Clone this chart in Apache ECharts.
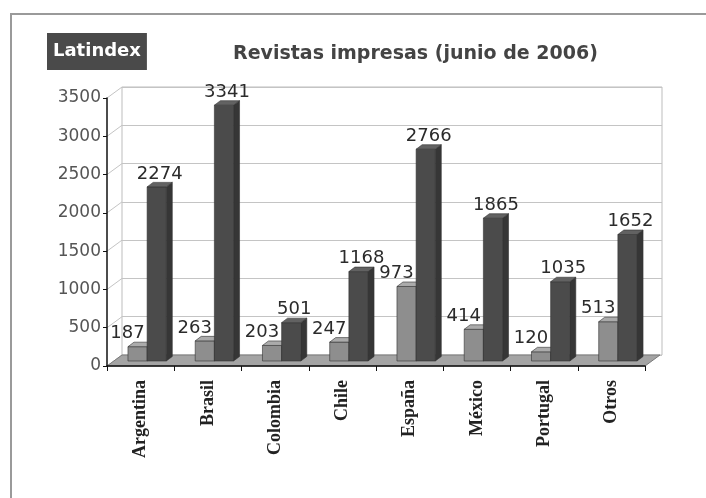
<!DOCTYPE html>
<html><head><meta charset="utf-8">
<script src="https://cdn.jsdelivr.net/npm/echarts@6/dist/echarts.min.js"></script>
<style>html,body{margin:0;padding:0;background:#fff}#c{width:706px;height:498px}</style>
</head><body><div id="c"></div>
<script>
const categories = ['Argentina', 'Brasil', 'Colombia', 'Chile', 'España', 'México', 'Portugal', 'Otros'];
const serieClara = [187, 263, 203, 247, 973, 414, 120, 513];
const serieOscura = [2274, 3341, 501, 1168, 2766, 1865, 1035, 1652];
const yTicks = [0, 500, 1000, 1500, 2000, 2500, 3000, 3500];

const WALL = [15, -11];
const SHIFT = [6.5, -5];
const DEPTH = [6, -4.5];

function barRenderer(side, colors, labelDx) {
  return function (params, api) {
    const i = api.value(0), v = api.value(1);
    const top = api.coord([i, v]);
    const bot = api.coord([i, 0]);
    const band = api.size([1, 0])[0];
    const w = band * 0.285;
    const cx = top[0] + SHIFT[0];
    const x0 = side === 0 ? cx - w : cx;
    const x1 = x0 + w;
    const yT = top[1] + SHIFT[1], yB = bot[1] + SHIFT[1];
    const st = { stroke: '#333', lineWidth: 0.6 };
    return {
      type: 'group',
      children: [
        { type: 'polygon', shape: { points: [[x1, yT], [x1 + DEPTH[0], yT + DEPTH[1]], [x1 + DEPTH[0], yB + DEPTH[1]], [x1, yB]] },
          style: Object.assign({ fill: colors[1] }, st) },
        { type: 'rect', shape: { x: x0, y: yT, width: w, height: yB - yT },
          style: Object.assign({ fill: colors[0] }, st) },
        { type: 'polygon', shape: { points: [[x0, yT], [x1, yT], [x1 + DEPTH[0], yT + DEPTH[1]], [x0 + DEPTH[0], yT + DEPTH[1]]] },
          style: Object.assign({ fill: colors[2] }, st) },
        { type: 'text', z2: 10, style: { text: String(v), x: (x0 + x1) / 2 + labelDx, y: yT - 13,
          align: 'center', verticalAlign: 'middle', font: '18px "DejaVu Sans"', fill: '#2b2b2b' } }
      ]
    };
  };
}

const chart = echarts.init(document.getElementById('c'), null, { renderer: 'canvas' });
chart.setOption({
  animation: false,
  backgroundColor: '#ffffff',
  graphic: [{
    type: 'rect', z: -10, silent: true,
    shape: { x: 11, y: 14, width: 800, height: 600 },
    style: { fill: 'none', stroke: '#9a9a9a', lineWidth: 2 }
  }],
  title: [
    { text: 'Latindex', left: 47, top: 33, padding: [9, 6, 9, 6], backgroundColor: '#4a4a4a',
      textStyle: { color: '#ffffff', fontFamily: 'DejaVu Sans', fontWeight: 'bold', fontSize: 18, lineHeight: 19 } },
    { text: 'Revistas impresas (junio de 2006)', left: 233, top: 44, padding: 0,
      textStyle: { color: '#444444', fontFamily: 'DejaVu Sans', fontWeight: 'bold', fontSize: 19, lineHeight: 20 } }
  ],
  grid: [
    { left: 107, top: 98, width: 538, height: 268 },
    { left: 122, top: 87, width: 540, height: 268, show: true, borderColor: '#bdbdbd', borderWidth: 1, backgroundColor: 'transparent' }
  ],
  xAxis: [
    { type: 'category', gridIndex: 0, data: categories, boundaryGap: true, z: 6,
      axisLine: { lineStyle: { color: '#111', width: 1.5 } },
      axisTick: { show: true, length: 5, lineStyle: { color: '#111' } },
      axisLabel: { rotate: 90, margin: 14, color: '#222', fontFamily: 'Liberation Serif', fontWeight: 'bold', fontSize: 18, interval: 0 } },
    { type: 'category', gridIndex: 1, data: categories, show: false }
  ],
  yAxis: [
    { type: 'value', gridIndex: 0, min: 0, max: 3500, interval: 500, z: 6,
      axisLine: { show: true, lineStyle: { color: '#111', width: 1.5 } },
      axisTick: { show: true, length: 4, lineStyle: { color: '#111' } },
      axisLabel: { margin: 6, color: '#555', fontFamily: 'DejaVu Sans', fontSize: 17, formatter: v => String(v) },
      splitLine: { show: false } },
    { type: 'value', gridIndex: 1, min: 0, max: 3500, interval: 500,
      axisLine: { show: false }, axisTick: { show: false }, axisLabel: { show: false },
      splitLine: { show: true, lineStyle: { color: '#c4c4c4', width: 1 } } }
  ],
  series: [
    { type: 'custom', name: 'pared', xAxisIndex: 0, yAxisIndex: 0, z: 1, silent: true,
      data: yTicks.map(t => [0, t]),
      renderItem: function (params, api) {
        const p = api.coord([0, api.value(1)]);
        const band = api.size([1, 0])[0];
        const x = p[0] - band / 2;
        return { type: 'line', shape: { x1: x, y1: p[1], x2: x + WALL[0], y2: p[1] + WALL[1] },
          style: { stroke: '#c4c4c4', lineWidth: 1 } };
      } },
    { type: 'custom', name: 'suelo', xAxisIndex: 0, yAxisIndex: 0, z: 2, silent: true,
      data: [[0, 0]],
      renderItem: function (params, api) {
        const band = api.size([1, 0])[0];
        const a = api.coord([0, 0]);
        const b = api.coord([categories.length - 1, 0]);
        const L = a[0] - band / 2, R = b[0] + band / 2, y = a[1];
        return { type: 'polygon', shape: { points: [[L, y], [R, y], [R + WALL[0], y + WALL[1]], [L + WALL[0], y + WALL[1]]] },
          style: { fill: '#a4a4a4', stroke: '#7a7a7a', lineWidth: 1 } };
      } },
    { type: 'custom', name: 'Serie 1', xAxisIndex: 0, yAxisIndex: 0, z: 3,
      data: serieClara.map((v, i) => [i, v]),
      renderItem: barRenderer(0, ['#8e8e8e', '#6c6c6c', '#ababab'], -10) },
    { type: 'custom', name: 'Serie 2', xAxisIndex: 0, yAxisIndex: 0, z: 4,
      data: serieOscura.map((v, i) => [i, v]),
      renderItem: barRenderer(1, ['#4b4b4b', '#363636', '#626262'], 3) }
  ]
});
</script>
</body></html>
